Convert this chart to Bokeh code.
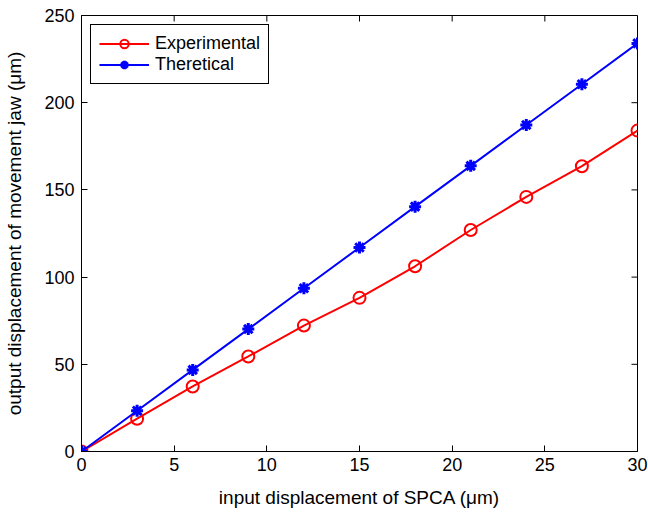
import math
from bokeh.plotting import figure
from bokeh.models import Range1d, FixedTicker, Legend, LegendItem
from bokeh.embed import file_html
from bokeh.resources import INLINE

x_input = [0, 3, 6, 9, 12, 15, 18, 21, 24, 27, 30]
experimental = [0, 18.8, 37.3, 54.5, 72.2, 88.1, 106.2, 127.0, 146.0, 163.6, 184.0]
theoretical = [0, 23.4, 46.8, 70.2, 93.6, 117.0, 140.4, 163.8, 187.2, 210.6, 234.0]
x_ticks = [0, 5, 10, 15, 20, 25, 30]
y_ticks = [0, 50, 100, 150, 200, 250]

FONT = "Liberation Sans"
X_MIN, X_MAX = 0, 30
Y_MIN, Y_MAX = 0, 250

p = figure(frame_width=556, frame_height=436, output_backend="svg", toolbar_location=None,
           x_range=Range1d(X_MIN, X_MAX), y_range=Range1d(Y_MIN, Y_MAX),
           min_border_left=81, min_border_right=11, min_border_top=15, min_border_bottom=62)
p.xgrid.visible = False
p.ygrid.visible = False
p.outline_line_color = "black"
p.outline_line_width = 1
p.outline_line_alpha = 1
p.background_fill_color = "white"
p.border_fill_color = "white"

for ax, ticks in ((p.xaxis[0], x_ticks), (p.yaxis[0], y_ticks)):
    ax.ticker = FixedTicker(ticks=ticks)
    ax.major_tick_in = 6
    ax.major_tick_out = 0
    ax.minor_tick_line_color = None
    ax.major_tick_line_color = "black"
    ax.axis_line_color = "black"
    ax.major_label_text_font = FONT
    ax.major_label_text_color = "black"
    ax.major_label_text_font_size = "18px"
    ax.axis_label_text_font = FONT
    ax.axis_label_text_font_style = "normal"
    ax.axis_label_text_color = "black"
    ax.axis_label_text_font_size = "19px"

p.xaxis[0].axis_label = "input displacement of SPCA (μm)"
p.yaxis[0].axis_label = "output displacement of movement jaw (μm)"
p.xaxis[0].major_label_standoff = 6
p.yaxis[0].major_label_standoff = 7
p.xaxis[0].axis_label_standoff = 13
p.yaxis[0].axis_label_standoff = 16

# inward ticks on the top and right edges of the box (MATLAB style)
p.ray(x=x_ticks, y=[Y_MAX] * len(x_ticks), length=6, length_units="screen",
      angle=-math.pi / 2, line_color="black", line_width=1)
p.ray(x=[X_MAX] * len(y_ticks), y=y_ticks, length=6, length_units="screen",
      angle=math.pi, line_color="black", line_width=1)

r_line = p.line(x_input, experimental, line_color="#ff0000", line_width=2)
r_mark = p.scatter(x_input, experimental, marker="circle", size=12,
                   line_color="#ff0000", line_width=2, fill_color=None)
b_line = p.line(x_input, theoretical, line_color="#0000ff", line_width=2)
b_mark = p.scatter(x_input, theoretical, marker="asterisk", size=12,
                   line_color="#0000ff", line_width=3)

legend = Legend(items=[
    LegendItem(label="Experimental", renderers=[r_line, r_mark]),
    LegendItem(label="Theretical", renderers=[b_line, b_mark]),
], location="top_left")
legend.margin = 9
legend.padding = 8
legend.spacing = 0
legend.glyph_width = 50
legend.glyph_height = 21
legend.label_standoff = 6
legend.label_height = 21
legend.label_text_font = FONT
legend.label_text_font_size = "18px"
legend.label_text_color = "black"
legend.border_line_color = "black"
legend.border_line_width = 1
legend.border_line_alpha = 1
legend.background_fill_color = "white"
legend.background_fill_alpha = 1
p.add_layout(legend, "center")

open("out.html", "w").write(file_html(p, INLINE))
